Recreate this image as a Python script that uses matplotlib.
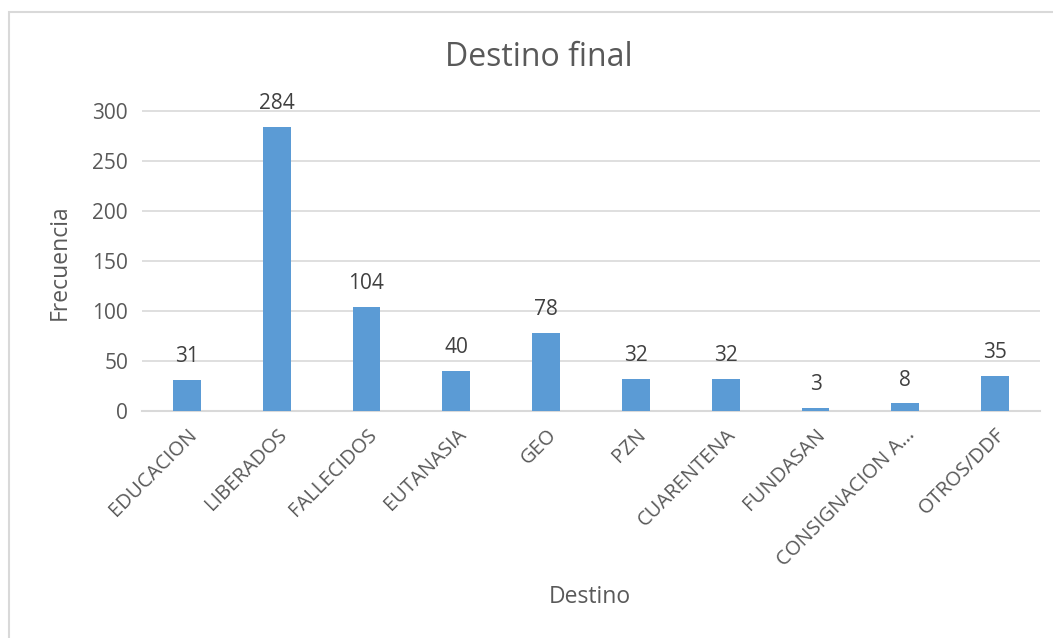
import matplotlib.pyplot as plt
from matplotlib.patches import Rectangle

plt.rcParams["font.family"] = ["Open Sans", "DejaVu Sans"]

# datos
categorias = ["EDUCACION", "LIBERADOS", "FALLECIDOS", "EUTANASIA", "GEO",
              "PZN", "CUARENTENA", "FUNDASAN", "CONSIGNACION A…", "OTROS/DDF"]
frecuencia = [31, 284, 104, 40, 78, 32, 32, 3, 8, 35]
ticks_y = [0, 50, 100, 150, 200, 250, 300]

color_barra = "#5B9BD5"
color_texto = "#595959"
color_grid = "#D9D9D9"

fig = plt.figure(figsize=(10.53, 6.38), dpi=100)
ax = fig.add_axes([142 / 1053, 1 - 411 / 638, 898 / 1053, 301 / 638])

x = range(len(categorias))
barras = ax.bar(x, frecuencia, width=0.31, color=color_barra, zorder=3)

for xi, v in zip(x, frecuencia):
    ax.annotate(str(v), (xi, v), xytext=(0, 9), textcoords="offset points",
                ha="center", va="bottom", fontsize=15, color="#404040")

ax.set_xlim(-0.5, len(categorias) - 0.5)
ax.set_ylim(0, 301)
ax.set_yticks(ticks_y)
ax.set_xticks(list(x))
ax.set_xticklabels(categorias, rotation=45, ha="right", va="top",
                   rotation_mode="anchor", fontsize=14.5, color=color_texto)
ax.tick_params(axis="y", labelsize=15, labelcolor=color_texto, length=0, pad=10)
ax.tick_params(axis="x", length=0, pad=10)

ax.grid(axis="y", color=color_grid, linewidth=1.2, zorder=0)
for s in ["top", "right", "left"]:
    ax.spines[s].set_visible(False)
ax.spines["bottom"].set_color(color_grid)
ax.spines["bottom"].set_linewidth(1.5)

fig.text(590 / 1053, 1 - 597 / 638, "Destino", ha="center", va="center",
         fontsize=16.5, color=color_texto)
fig.text(60 / 1053, 1 - 262 / 638, "Frecuencia", ha="center", va="center",
         rotation=90, fontsize=16.5, color=color_texto)
fig.text(539 / 1053, 1 - 58 / 638, "Destino final", ha="center", va="center",
         fontsize=23, color=color_texto)

# marco del gráfico
fig.patches.append(Rectangle((9 / 1053, -0.1), 1.2, 1 - 12 / 638 + 0.1,
                             transform=fig.transFigure, fill=False,
                             edgecolor=color_grid, linewidth=1.5))

fig.savefig("out.png", dpi=100)
